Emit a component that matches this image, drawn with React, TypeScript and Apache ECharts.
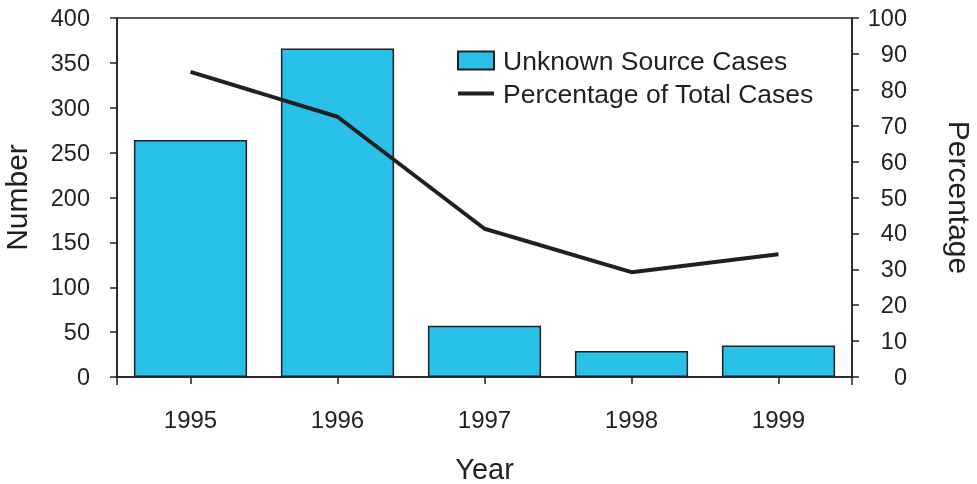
import React, { useEffect, useRef } from "react";
import * as echarts from "echarts";

const years = ["1995", "1996", "1997", "1998", "1999"];
const unknownSourceCases = [264, 366, 57, 29, 35];
const percentageOfTotal = [85, 72.5, 41.3, 29.2, 34.2];

const INK = "#231f20";
const CYAN = "#29c1e8";
const FONT = "'Liberation Sans', Arial, Helvetica, sans-serif";

export default function App() {
  const ref = useRef<HTMLDivElement>(null);
  useEffect(() => {
    if (!ref.current) return;
    const chart = echarts.init(ref.current, null, { renderer: "svg" });
    chart.setOption({
      animation: false,
      textStyle: { fontFamily: FONT, color: INK },
      grid: {
        left: 117,
        right: 125,
        top: 18,
        bottom: 107,
        outerBoundsMode: "none",
        containLabel: false,
        show: true,
        borderColor: INK,
        borderWidth: 1.5,
        backgroundColor: "transparent",
      },
      legend: {
        orient: "vertical",
        left: 452,
        top: 42,
        itemWidth: 36,
        itemHeight: 18,
        itemGap: 6,
        textStyle: {
          fontFamily: FONT,
          fontSize: 26.5,
          color: INK,
          lineHeight: 27,
          padding: [0, 0, 0, 4],
        },
        data: [
          { name: "Unknown Source Cases", icon: "rect" },
          {
            name: "Percentage of Total Cases",
            icon: "path://M0,0M36,18M0,7L36,7L36,11L0,11Z",
          },
        ],
      },
      xAxis: [
        {
          type: "category",
          data: years,
          name: "Year",
          nameLocation: "middle",
          nameGap: 77,
          nameTextStyle: { fontSize: 29, color: INK, fontFamily: FONT },
          axisLine: { lineStyle: { color: INK, width: 1.5 } },
          axisTick: { show: true, alignWithLabel: true, length: 7, lineStyle: { color: INK, width: 1.5 } },
          axisLabel: { fontSize: 24, color: INK, margin: 30, fontFamily: FONT },
        },
        {
          type: "value",
          position: "bottom",
          min: 0,
          max: 1,
          interval: 1,
          axisLine: { show: false },
          axisTick: { show: true, length: 8, lineStyle: { color: INK, width: 1.5 } },
          axisLabel: { show: false },
          splitLine: { show: false },
        },
      ],
      yAxis: [
        {
          type: "value",
          min: 0,
          max: 400,
          interval: 50,
          name: "Number",
          nameLocation: "middle",
          nameGap: 86,
          nameTextStyle: { fontSize: 30, color: INK, fontFamily: FONT },
          axisLine: { show: true, lineStyle: { color: INK, width: 1.5 } },
          axisTick: { show: true, length: 7, lineStyle: { color: INK, width: 1.5 } },
          axisLabel: { fontSize: 23.5, color: INK, margin: 27, fontFamily: FONT },
          splitLine: { show: false },
        },
        {
          type: "value",
          position: "right",
          min: 0,
          max: 100,
          interval: 10,
          name: "Percentage",
          nameLocation: "middle",
          nameRotate: -90,
          nameGap: 92,
          nameTextStyle: { fontSize: 30, color: INK, fontFamily: FONT },
          axisLine: { show: true, lineStyle: { color: INK, width: 1.5 } },
          axisTick: { show: true, length: 7, lineStyle: { color: INK, width: 1.5 } },
          axisLabel: { fontSize: 23.5, color: INK, margin: 55, align: "right", fontFamily: FONT },
          splitLine: { show: false },
        },
      ],
      series: [
        {
          name: "Unknown Source Cases",
          type: "bar",
          data: unknownSourceCases,
          xAxisIndex: 0,
          yAxisIndex: 0,
          barCategoryGap: "23%",
          itemStyle: { color: CYAN, borderColor: INK, borderWidth: 1.5 },
        },
        {
          name: "Percentage of Total Cases",
          type: "line",
          data: percentageOfTotal,
          xAxisIndex: 0,
          yAxisIndex: 1,
          symbol: "none",
          lineStyle: { color: INK, width: 4 },
          itemStyle: { color: INK },
        },
      ],
    });
    return () => chart.dispose();
  }, []);
  return (
    <div
      ref={ref}
      style={{ position: "fixed", left: 0, top: 0, width: 977, height: 484 }}
    />
  );
}
